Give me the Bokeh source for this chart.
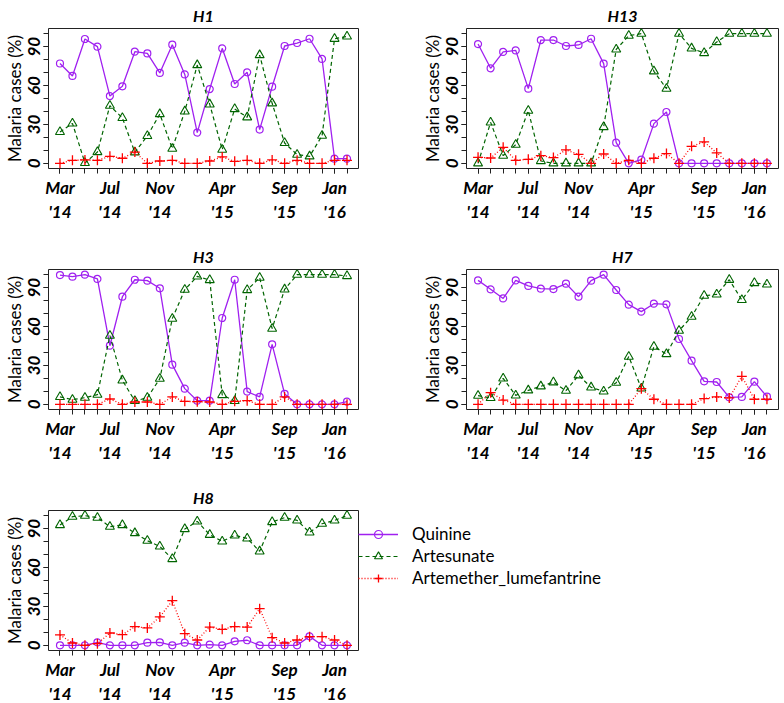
from bokeh.plotting import figure
from bokeh.models import FixedTicker, Legend, LegendItem, Range1d
from bokeh.layouts import column, row
from bokeh.embed import file_html
from bokeh.resources import INLINE

# ---------------- data ----------------
months = ["Mar 2014", "Apr 2014", "May 2014", "Jun 2014", "Jul 2014", "Aug 2014",
          "Sep 2014", "Oct 2014", "Nov 2014", "Dec 2014", "Jan 2015", "Feb 2015",
          "Mar 2015", "Apr 2015", "May 2015", "Jun 2015", "Jul 2015", "Aug 2015",
          "Sep 2015", "Oct 2015", "Nov 2015", "Dec 2015", "Jan 2016", "Feb 2016"]
x_tick_positions = [0, 4, 8, 13, 18, 22]
x_tick_labels = ["Mar\n'14", "Jul\n'14", "Nov\n'14", "Apr\n'15", "Sep\n'15", "Jan\n'16"]
y_tick_values = [0, 30, 60, 90]
y_minor_values = [0, 10, 20, 30, 40, 50, 60, 70, 80, 90, 100]
series_names = ["Quinine", "Artesunate", "Artemether_lumefantrine"]

h1_quinine = [77, 67.4, 95.9, 90, 51.9, 59.4, 86.1, 84.8, 69.7, 91.5, 68.6, 23.7,
              57.3, 88.7, 61.2, 70.2, 26, 59.1, 90.5, 92.8, 96.1, 80.5, 3.6, 3.6]
h1_artesunate = [24.2, 30.8, 0.3, 8.7, 44.5, 35, 8.5, 21.1, 38, 11.3, 40.1, 75.8,
                 45.5, 10.5, 41.9, 35.5, 83.5, 46.3, 15.7, 6.7, 5.4, 21.3, 96.1, 97.9]
h1_al = [0, 2.3, 2.6, 2.3, 5.4, 3.9, 8.7, 0, 1.8, 2.3, 0, 0,
         1.8, 4.9, 1.5, 2.3, 0, 2.6, 0, 2.3, 0, 0, 2.3, 2.3]

h13_quinine = [92, 73.3, 85.9, 87.1, 57.6, 95.1, 95.1, 90.5, 91.3, 96.1, 76.9, 15.9,
               0, 2.8, 30.6, 39.6, 0, 0, 0, 0, 0, 0, 0, 0]
h13_artesunate = [0, 31.6, 5.9, 14.4, 40.6, 1.8, 0, 0, 0, 0, 28, 87.9,
                  98.5, 100, 71, 57.6, 100, 88.7, 85.1, 93.6, 100, 100, 100, 100]
h13_al = [4.6, 4.1, 12.3, 2.3, 3.1, 5.9, 4.4, 10.3, 6.9, 0, 7.2, 0,
          2.3, 0, 3.9, 7.5, 0, 13.1, 16.5, 8, 0, 0, 0, 0]

h3_quinine = [99.7, 98.5, 100, 96.7, 45.2, 83, 96.1, 95.4, 89.5, 30.6, 12.1, 2.8,
              2.8, 66.6, 96.1, 9.8, 5.7, 46.3, 8, 0, 0, 0, 0, 2]
h3_artesunate = [5.7, 3.6, 5.1, 7.5, 53, 18.5, 2.6, 5.1, 19.8, 66.1, 88.4, 98.7,
                 95.9, 7.2, 2.6, 88.2, 97.7, 58.4, 88.7, 100, 100, 100, 100, 99]
h3_al = [0, 0, 0, 0, 4.1, 0, 1.8, 1.8, 0, 5.7, 2.3, 2,
         1.8, 0, 2.3, 2.8, 0, 0, 5.7, 0, 0, 0, 0, 0]

h7_quinine = [95.6, 88.7, 81.7, 95.6, 91.3, 89.2, 88.9, 93.1, 83, 95.4, 100, 88.2,
              76.9, 71.5, 77.6, 77.1, 50.4, 33.7, 17.7, 17.2, 5.4, 5.7, 17.5, 5.9]
h7_artesunate = [6.7, 4.9, 20, 6.9, 10.8, 13.9, 17, 10.5, 22.4, 13.1, 10, 16.7,
                 36.8, 12.3, 44.5, 38.8, 56.8, 67.6, 83.8, 84.8, 96.1, 80.5, 93.6, 92.5]
h7_al = [0, 9, 3.3, 0, 0, 0, 0, 0, 0, 0, 0, 0,
         0, 12.1, 3.9, 0, 0, 0, 4.4, 5.7, 4.9, 21.6, 3.9, 3.9]

h8_quinine = [0, 0, 0, 2.3, 0, 0, 0, 2, 2.3, 0, 2, 0,
              0.5, 0, 3.1, 3.9, 0, 0, 0, 0, 6.9, 0, 0, 0]
h8_artesunate = [92.8, 99.2, 100, 98.5, 91.5, 92.8, 86.6, 80.7, 76.3, 66.6, 89.7, 95.6,
                 85.3, 80.2, 84.8, 82.5, 72.5, 95.1, 98.5, 96.4, 87.1, 93.8, 96.4, 100]
h8_al = [8, 1.8, 0, 1.3, 9.5, 8.2, 14.4, 13.4, 21.9, 34.4, 9, 4.1,
         14.1, 12.3, 14.4, 14.1, 28.3, 5.9, 1.8, 4.1, 6.7, 6.7, 4.1, 0]

# ---------------- styling ----------------
FONT = "Lato"
Q_COLOR = "#A020F0"
A_COLOR = "#006400"
R_COLOR = "#FF0000"


def make_panel(title, quinine, artesunate, al, frame_w, border_l, border_r,
               border_t, border_b, with_legend=False):
    x = list(range(len(months)))
    p = figure(output_backend="svg", toolbar_location=None,
               frame_width=frame_w, frame_height=140,
               min_border_left=border_l, min_border_right=border_r,
               min_border_top=border_t, min_border_bottom=border_b,
               x_range=Range1d(-0.92, len(months) - 1 + 0.92),
               y_range=Range1d(-4, 104))
    p.title.text = title
    p.title.align = "center"
    p.title.text_font = FONT
    p.title.text_font_style = "bold italic"
    p.title.text_font_size = "16px"
    p.title.text_color = "black"
    p.title.standoff = 7

    p.xgrid.visible = False
    p.ygrid.visible = False
    p.outline_line_color = "#222222"
    p.outline_line_width = 1
    p.outline_line_alpha = 1
    p.background_fill_color = "white"
    p.border_fill_color = "white"

    xa = p.xaxis[0]
    xa.ticker = FixedTicker(ticks=x_tick_positions, minor_ticks=x)
    xa.major_label_overrides = {k: v for k, v in zip(x_tick_positions, x_tick_labels)}
    ya = p.yaxis[0]
    ya.ticker = FixedTicker(ticks=y_tick_values, minor_ticks=y_minor_values)
    for ax in (xa, ya):
        ax.axis_line_color = None
        ax.major_tick_out = 5
        ax.major_tick_in = 0
        ax.minor_tick_out = 5
        ax.minor_tick_in = 0
        ax.major_tick_line_color = "#222222"
        ax.minor_tick_line_color = "#222222"
        ax.major_label_text_font = FONT
        ax.major_label_text_font_style = "bold italic"
        ax.major_label_text_font_size = "17px"
        ax.major_label_text_color = "black"
    xa.major_label_standoff = 3
    xa.major_label_text_line_height = 1.15
    ya.major_label_orientation = "parallel"
    ya.major_label_standoff = 3
    ya.axis_label = "Malaria cases (%)"
    ya.axis_label_text_font = FONT
    ya.axis_label_text_font_style = "normal"
    ya.axis_label_text_font_size = "17px"
    ya.axis_label_text_color = "black"
    ya.axis_label_standoff = 1

    lq = p.line(x, quinine, line_color=Q_COLOR, line_width=1.3)
    sq = p.scatter(x, quinine, marker="circle", size=7, line_color=Q_COLOR,
                   fill_color=None, line_width=1.2)
    la = p.line(x, artesunate, line_color=A_COLOR, line_width=1.2, line_dash="4 3")
    sa = p.scatter(x, artesunate, marker="triangle", size=9, line_color=A_COLOR,
                   fill_color=None, line_width=1.1)
    lr = p.line(x, al, line_color=R_COLOR, line_width=1.3, line_dash="1 2")
    sr = p.scatter(x, al, marker="cross", size=10, line_color=R_COLOR, line_width=1.3)

    if with_legend:
        legend = Legend(items=[
            LegendItem(label=series_names[0], renderers=[lq, sq]),
            LegendItem(label=series_names[1], renderers=[la, sa]),
            LegendItem(label=series_names[2], renderers=[lr, sr]),
        ], location=(0, 62), glyph_width=40, glyph_height=20, label_height=20,
            label_standoff=14, padding=0, margin=0, spacing=1,
            label_text_font=FONT, label_text_font_size="17px",
            label_text_color="black",
            border_line_color=None, background_fill_alpha=0)
        p.add_layout(legend, "right")
    return p


p_h1 = make_panel("H1", h1_quinine, h1_artesunate, h1_al, 310, 45, 60, 25, 73)
p_h13 = make_panel("H13", h13_quinine, h13_artesunate, h13_al, 312, 45, 1, 25, 73)
p_h3 = make_panel("H3", h3_quinine, h3_artesunate, h3_al, 310, 45, 60, 25, 73)
p_h7 = make_panel("H7", h7_quinine, h7_artesunate, h7_al, 312, 45, 1, 25, 73)
p_h8 = make_panel("H8", h8_quinine, h8_artesunate, h8_al, 310, 45, 0, 25, 50,
                  with_legend=True)

layout = column(row(p_h1, p_h13), row(p_h3, p_h7), p_h8)

open("out.html", "w").write(file_html(layout, INLINE))
